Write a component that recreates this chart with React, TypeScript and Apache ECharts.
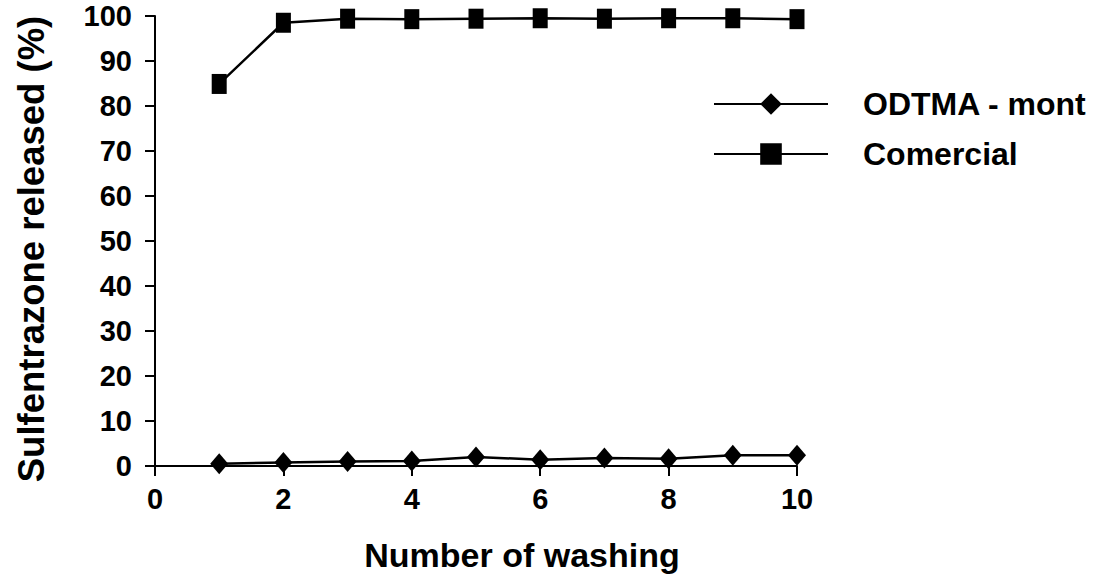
import React, { useEffect, useRef } from "react";
import * as echarts from "echarts";

const washings = [1, 2, 3, 4, 5, 6, 7, 8, 9, 10];
const odtmaMont = [0.5, 0.8, 1.0, 1.1, 2.0, 1.4, 1.8, 1.6, 2.4, 2.4];
const comercial = [84.9, 98.5, 99.4, 99.3, 99.4, 99.5, 99.4, 99.5, 99.5, 99.3];

const seriesNames = ["ODTMA - mont", "Comercial"];

const FONT = "Liberation Sans, Arial, sans-serif";

export default function App() {
  const ref = useRef<HTMLDivElement>(null);
  useEffect(() => {
    if (!ref.current) return;
    const chart = echarts.init(ref.current, undefined, { renderer: "svg" });
    chart.setOption({
      animation: false,
      backgroundColor: "#fff",
      grid: { left: 155, right: 301, top: 16, bottom: 122, containLabel: false },
      legend: {
        orient: "vertical",
        left: 708,
        top: 83,
        itemWidth: 114,
        itemHeight: 27,
        itemGap: 18,
        data: seriesNames,
        textStyle: {
          fontFamily: FONT,
          fontSize: 32,
          fontWeight: "bold",
          color: "#000",
          padding: [0, 0, 0, 30],
        },
      },
      xAxis: {
        type: "value",
        min: 0,
        max: 10,
        interval: 2,
        name: "Number of washing",
        nameLocation: "middle",
        nameGap: 72,
        nameTextStyle: {
          fontFamily: FONT,
          fontSize: 34,
          fontWeight: "bold",
          color: "#000",
          padding: [0, 0, 0, 92],
        },
        axisLine: { show: true, lineStyle: { color: "#000", width: 2 } },
        axisTick: { show: true, length: 10, lineStyle: { color: "#000", width: 2 } },
        axisLabel: { fontFamily: FONT, fontSize: 29, fontWeight: "bold", color: "#000", margin: 18 },
        splitLine: { show: false },
      },
      yAxis: {
        type: "value",
        min: 0,
        max: 100,
        interval: 10,
        name: "Sulfentrazone released (%)",
        nameLocation: "middle",
        nameGap: 105,
        nameRotate: 90,
        nameTextStyle: {
          fontFamily: FONT,
          fontSize: 36.5,
          fontWeight: "bold",
          color: "#000",
          padding: [0, 16, 0, 0],
        },
        axisLine: { show: true, lineStyle: { color: "#000", width: 2 } },
        axisTick: { show: true, length: 10, lineStyle: { color: "#000", width: 2 } },
        axisLabel: { fontFamily: FONT, fontSize: 29, fontWeight: "bold", color: "#000", margin: 23 },
        splitLine: { show: false },
      },
      series: [
        {
          name: seriesNames[0],
          type: "line",
          data: washings.map((x, i) => [x, odtmaMont[i]]),
          symbol: "diamond",
          symbolSize: [18, 21],
          lineStyle: { color: "#000", width: 2.5 },
          itemStyle: { color: "#000" },
        },
        {
          name: seriesNames[1],
          type: "line",
          data: washings.map((x, i) => [x, comercial[i]]),
          symbol: "rect",
          symbolSize: [15, 20],
          lineStyle: { color: "#000", width: 2.5 },
          itemStyle: { color: "#000" },
        },
      ],
    });
    return () => chart.dispose();
  }, []);
  return <div ref={ref} style={{ width: 1098, height: 588, position: "absolute", left: 0, top: 0 }} />;
}
